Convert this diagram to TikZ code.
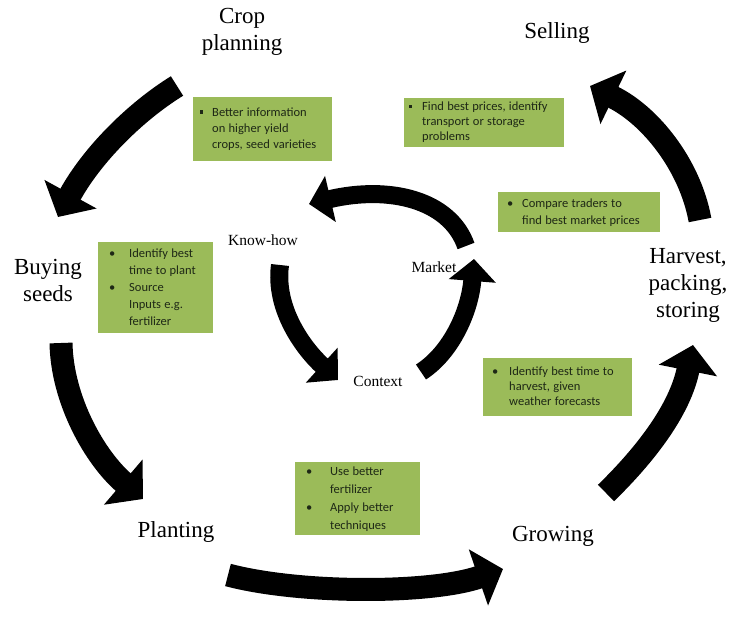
\documentclass[tikz,border=0pt]{standalone}
\usepackage{fontspec}
\setmainfont{Liberation Serif}
\newfontfamily\calibri{Carlito}
\usepackage{tikz}
\usetikzlibrary{arrows.meta}
\definecolor{leafgreen}{RGB}{155,187,89}
\definecolor{tipink}{RGB}{30,40,22}
\newcommand{\sqbul}{\rule[2.8pt]{3.2pt}{3.2pt}}
\newcommand{\rdbul}{\textbullet}

\begin{document}
\begin{tikzpicture}[x=1pt,y=-1pt,line join=round,
  stage/.style={font=\fontsize{23}{27}\selectfont,align=center,inner sep=0pt},
  core/.style={font=\fontsize{15.5}{18}\selectfont,inner sep=0pt},
  tipbox/.style={fill=leafgreen,anchor=north west,align=left,inner ysep=0pt,text=tipink},
  bigarrow/.style={line width=23pt,-{Triangle[length=26pt,width=58pt]}},
  smallarrow/.style={line width=18pt,-{Triangle[length=22pt,width=46pt]}}]
  \useasboundingbox (0,0) rectangle (740,617);
  % ends of the outer arrows
  \coordinate (cropT) at (177,86);
  \coordinate (buyH) at (58,217);
  \coordinate (buyT) at (61,343);
  \coordinate (plantH) at (143,499);
  \coordinate (plantT) at (228,575);
  \coordinate (growH) at (503,569);
  \coordinate (growT) at (606,493);
  \coordinate (harvH) at (693,345);
  \coordinate (harvT) at (700,220);
  \coordinate (sellH) at (590,86);
  % ends of the inner arrows
  \coordinate (marketT) at (466,246);
  \coordinate (knowH) at (309,204);
  \coordinate (knowT) at (280,265);
  \coordinate (contextH) at (338,380);
  \coordinate (contextT) at (421,372);
  \coordinate (marketH) at (474,259);
  % stages
  \node[stage] (crop) at (242,32) {Crop\\planning};
  \node[stage] (sell) at (557,33) {Selling};
  \node[stage] (buy) at (48,281) {Buying\\seeds};
  \node[stage] (harv) at (688,285) {Harvest,\\packing,\\storing};
  \node[stage] (plant) at (176,532) {Planting};
  \node[stage] (grow) at (553,536) {Growing};
  \node[core] (know) at (263,240) {Know-how};
  \node[core] (market) at (434,267) {Market};
  \node[core] (context) at (378,381) {Context};
  % outer cycle
  \draw[bigarrow] (cropT) .. controls (135,112) and (92,155) .. (buyH);
  \draw[bigarrow] (buyT) .. controls (62,400) and (95,458) .. (plantH);
  \draw[bigarrow] (plantT) .. controls (300,594) and (430,594) .. (growH);
  \draw[bigarrow] (growT) .. controls (645,455) and (680,410) .. (harvH);
  \draw[bigarrow] (harvT) .. controls (690,165) and (650,115) .. (sellH);
  % inner cycle
  \draw[smallarrow] (marketT) .. controls (450,200) and (390,185) .. (knowH);
  \draw[smallarrow] (knowT) .. controls (274,310) and (305,350) .. (contextH);
  \draw[smallarrow] (contextT) .. controls (452,352) and (470,310) .. (marketH);
  % tips
  \node[tipbox,text width=125pt,minimum height=64pt,inner xsep=7pt] (cropTip) at (193,97)
    {\fontsize{12.5}{16}\calibri\begin{tabular}{@{}p{12pt}@{}l@{}}\sqbul&Better information\\&on higher yield\\&crops, seed varieties\end{tabular}};
  \node[tipbox,text width=150pt,minimum height=49pt,inner xsep=5pt] (sellTip) at (404,98)
    {\fontsize{12.5}{15}\calibri\begin{tabular}{@{}p{13pt}@{}l@{}}\sqbul&Find best prices, identify\\&transport or storage\\&problems\end{tabular}};
  \node[tipbox,text width=93pt,minimum height=91pt,inner xsep=11pt] (buyTip) at (98,242)
    {\fontsize{12.5}{17}\calibri\begin{tabular}{@{}p{20pt}@{}l@{}}\rdbul&Identify best\\&time to plant\\\rdbul&Source\\&Inputs e.g.\\&fertilizer\end{tabular}};
  \node[tipbox,text width=144pt,minimum height=40pt,inner xsep=9pt] (marketTip) at (498,192)
    {\fontsize{12.5}{17}\calibri\begin{tabular}{@{}p{15pt}@{}l@{}}\rdbul&Compare traders to\\&find best market prices\end{tabular}};
  \node[tipbox,text width=131pt,minimum height=58pt,inner xsep=9pt] (harvTip) at (483,358)
    {\fontsize{12.5}{15}\calibri\begin{tabular}{@{}p{17pt}@{}l@{}}\rdbul&Identify best time to\\&harvest, given\\&weather forecasts\end{tabular}};
  \node[tipbox,text width=103pt,minimum height=73pt,inner xsep=11pt] (plantTip) at (295,462)
    {\fontsize{12.5}{18}\calibri\begin{tabular}{@{}p{24pt}@{}l@{}}\rdbul&Use better\\&fertilizer\\\rdbul&Apply better\\&techniques\end{tabular}};
\end{tikzpicture}
\end{document}
